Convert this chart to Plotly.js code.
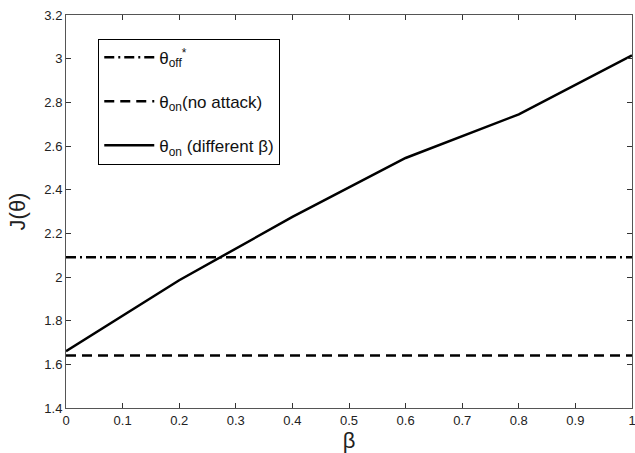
<!DOCTYPE html>
<html><head><meta charset="utf-8">
<script src="https://cdn.plot.ly/plotly-3.0.1.min.js"></script>
<style>body{margin:0;padding:0;background:#fff}#c{width:635px;height:453px}</style>
</head><body><div id="c"></div>
<script>
const beta = [0, 0.2, 0.4, 0.6, 0.8, 1.0];
const jOnDiff = [1.66, 1.985, 2.275, 2.545, 2.745, 3.015];
const jOff = 2.09;
const jOnNoAttack = 1.64;
const xRange = [0, 1];
const xTicks = [0, 0.1, 0.2, 0.3, 0.4, 0.5, 0.6, 0.7, 0.8, 0.9, 1];
const xTickText = ['0', '0.1', '0.2', '0.3', '0.4', '0.5', '0.6', '0.7', '0.8', '0.9', '1'];
const yTicks = [1.4, 1.6, 1.8, 2, 2.2, 2.4, 2.6, 2.8, 3, 3.2];
const yTickText = ['1.4', '1.6', '1.8', '2', '2.2', '2.4', '2.6', '2.8', '3', '3.2'];
const names = ['θ<sub>off</sub><sup>*</sup>', 'θ<sub>on</sub>(no attack)', 'θ<sub>on</sub> (different β)'];

const FONT = 'Liberation Sans, Arial, sans-serif';
const traces = [
  {x: xRange, y: xRange.map(() => jOff), mode: 'lines', name: names[0], legendgroup: 'a',
   line: {color: '#000', width: 2.5, dash: '10px,4px,2px,4px'}},
  {x: xRange, y: xRange.map(() => jOnNoAttack), mode: 'lines', name: names[1], legendgroup: 'b',
   line: {color: '#000', width: 2.5, dash: '10px,6px'}},
  {x: beta, y: jOnDiff, mode: 'lines', name: names[2], legendgroup: 'c',
   line: {color: '#000', width: 2.5}}
];
const ax = {showgrid: false, zeroline: false, showline: true, mirror: 'ticks', linecolor: '#555', linewidth: 1,
  ticks: 'inside', ticklen: 5, tickcolor: '#333', ticklabeloverflow: 'allow',
  tickfont: {family: FONT, size: 13, color: '#222'}};
const layout = {
  width: 635, height: 453,
  margin: {l: 66, r: 3, t: 15, b: 45},
  paper_bgcolor: '#fff', plot_bgcolor: '#fff',
  showlegend: true,
  xaxis: Object.assign({}, ax, {range: [0, 1], tickmode: 'array', tickvals: xTicks, ticktext: xTickText,
    title: {text: 'β', font: {family: FONT, size: 22, color: '#222'}, standoff: 2}}),
  yaxis: Object.assign({}, ax, {range: [1.4, 3.2], tickmode: 'array', tickvals: yTicks, ticktext: yTickText,
    title: {text: 'J(θ)', font: {family: FONT, size: 22, color: '#222'}, standoff: 12}}),
  legend: {x: 0.057, y: 0.94, xanchor: 'left', yanchor: 'top', bordercolor: '#000', borderwidth: 1,
    bgcolor: '#fff', font: {family: FONT, size: 17, color: '#111'}, itemwidth: 50, tracegroupgap: 19,
    traceorder: 'grouped'}
};
Plotly.newPlot('c', traces, layout, {displayModeBar: false, staticPlot: true});
</script></body></html>
